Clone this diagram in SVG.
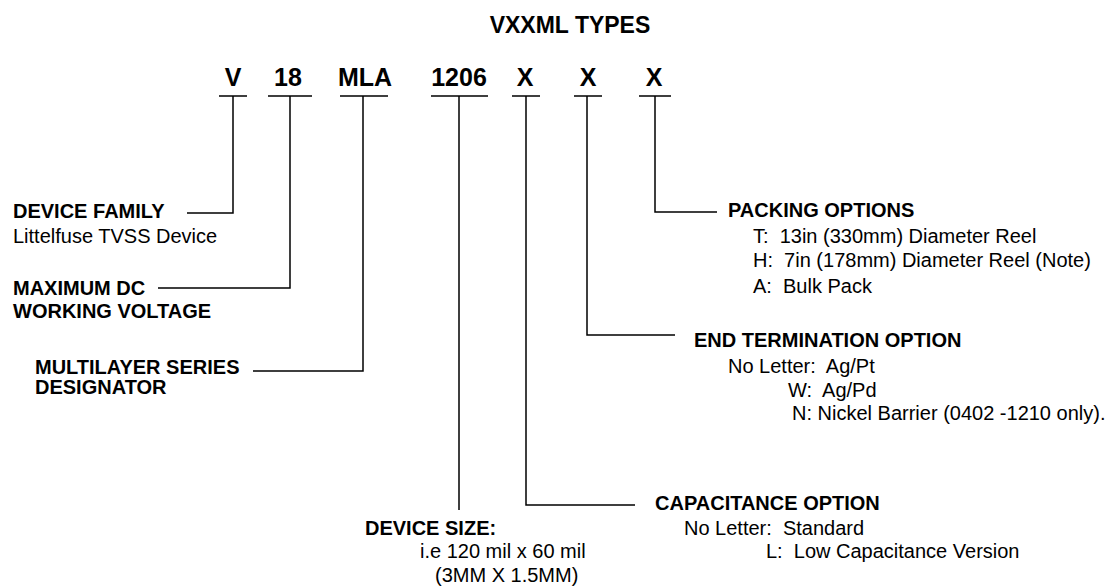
<svg xmlns="http://www.w3.org/2000/svg" width="1119" height="587" viewBox="0 0 1119 587">
<style>
text{font-family:"Liberation Sans",Arial,Helvetica,sans-serif;fill:#000}
.t{font-size:23px;font-weight:bold;text-anchor:middle}
.c{font-size:25px;font-weight:bold;text-anchor:middle}
.b{font-size:20px;font-weight:bold}
.r{font-size:20px;white-space:pre}
.ln{stroke:#000;stroke-width:1.5;fill:none}
</style>
<rect width="1119" height="587" fill="#fff"/>
<g id="title"><text class="t" x="570" y="33">VXXML TYPES</text></g>
<g id="codes">
<text class="c" x="233" y="86">V</text>
<text class="c" x="288" y="86">18</text>
<text class="c" x="365" y="86">MLA</text>
<text class="c" x="459" y="86">1206</text>
<text class="c" x="525" y="86">X</text>
<text class="c" x="588" y="86">X</text>
<text class="c" x="654" y="86">X</text>
</g>
<g id="connectors" class="ln">
<path d="M219 96H247M233 96V213H187"/>
<path d="M268 96H312M290 96V288H158"/>
<path d="M340 96H388M363 96V371H253"/>
<path d="M431 96H488M459 96V510"/>
<path d="M512 96H540M526 96V505H635"/>
<path d="M574 96H602M587 96V335H675"/>
<path d="M639 96H671M655 96V212H717"/>
</g>
<g id="device-family">
<text class="b" x="13" y="218">DEVICE FAMILY</text>
<text class="r" x="13" y="243">Littelfuse TVSS Device</text>
</g>
<g id="max-dc">
<text class="b" x="13" y="295">MAXIMUM DC</text>
<text class="b" x="13" y="318">WORKING VOLTAGE</text>
</g>
<g id="multilayer">
<text class="b" x="35" y="374">MULTILAYER SERIES</text>
<text class="b" x="35" y="394">DESIGNATOR</text>
</g>
<g id="device-size">
<text class="b" x="365" y="535">DEVICE SIZE:</text>
<text class="r" x="420" y="558">i.e 120 mil x 60 mil</text>
<text class="r" x="435" y="582">(3MM X 1.5MM)</text>
</g>
<g id="packing">
<text class="b" x="728" y="217">PACKING OPTIONS</text>
<text class="r" x="753" y="243">T:  13in (330mm) Diameter Reel</text>
<text class="r" x="753" y="267">H:  7in (178mm) Diameter Reel (Note)</text>
<text class="r" x="753" y="293">A:  Bulk Pack</text>
</g>
<g id="end-termination">
<text class="b" x="694" y="347">END TERMINATION OPTION</text>
<text class="r" x="728" y="373">No Letter:  Ag/Pt</text>
<text class="r" x="788" y="397">W:  Ag/Pd</text>
<text class="r" x="792" y="420">N: Nickel Barrier (0402 -1210 only).</text>
</g>
<g id="capacitance">
<text class="b" x="655" y="510">CAPACITANCE OPTION</text>
<text class="r" x="684" y="535">No Letter:  Standard</text>
<text class="r" x="766" y="558">L:  Low Capacitance Version</text>
</g>
</svg>
